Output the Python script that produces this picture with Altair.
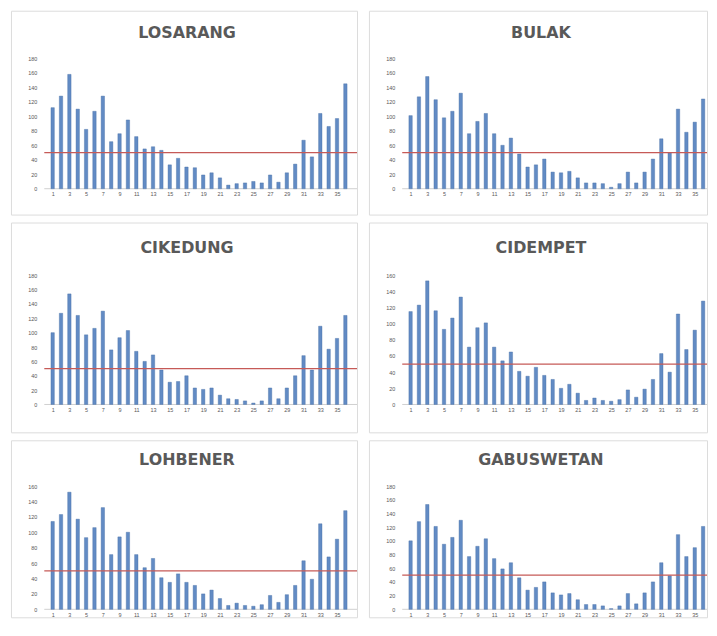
import altair as alt
import pandas as pd

days = list(range(1, 37))
x_labels = list(range(1, 36, 2))

losarang = [112, 128, 158, 110, 82, 107, 128, 65, 76, 95, 72, 55, 58, 53, 33, 42, 30, 29,
            19, 22, 15, 5, 7, 8, 10, 8, 19, 9, 22, 34, 67, 44, 104, 86, 97, 145]
bulak = [101, 127, 155, 123, 98, 107, 132, 76, 93, 104, 76, 60, 70, 48, 30, 33, 41, 23,
         22, 24, 15, 8, 8, 7, 2, 7, 23, 8, 23, 41, 69, 50, 110, 78, 92, 124]
cikedung = [100, 127, 154, 124, 97, 106, 130, 76, 93, 103, 74, 60, 69, 48, 31, 32, 40, 23,
            21, 23, 13, 8, 7, 5, 2, 5, 23, 8, 23, 40, 68, 48, 109, 77, 92, 124]
cidempet = [115, 123, 153, 116, 93, 107, 133, 71, 95, 101, 71, 54, 65, 41, 35, 46, 36, 31,
            20, 25, 14, 5, 8, 5, 4, 6, 18, 9, 19, 31, 63, 40, 112, 68, 92, 128]
lohbener = [114, 123, 152, 117, 93, 106, 132, 71, 94, 100, 71, 54, 66, 41, 35, 46, 35, 31,
            20, 25, 14, 5, 8, 5, 4, 6, 18, 9, 19, 31, 63, 39, 111, 68, 91, 128]
gabuswetan = [100, 128, 153, 121, 95, 105, 130, 77, 92, 103, 74, 59, 68, 46, 28, 32, 40, 24,
              21, 23, 14, 7, 7, 5, 1, 5, 23, 8, 24, 40, 68, 49, 109, 77, 90, 121]

panels = [
    ("LOSARANG", losarang, 180),
    ("BULAK", bulak, 180),
    ("CIKEDUNG", cikedung, 180),
    ("CIDEMPET", cidempet, 160),
    ("LOHBENER", lohbener, 160),
    ("GABUSWETAN", gabuswetan, 180),
]
threshold = 50

GRAY = "#595959"
FIRST_PX = 38   # pixel column of day 1 inside a panel
STEP_PX = 8.66  # pixels per day
# per row: panel height, title centre, top-tick row, zero row (pixels inside the panel)
ROWS = [
    dict(h=205, title=22, top=48, zero=179),
    dict(h=211, title=26, top=53, zero=183),
    dict(h=178, title=20, top=46, zero=170),
]
WIDTHS = [348, 340]
PAD = {"left": 2, "top": 0, "right": 0, "bottom": 0}


def panel(name, values, ymax, w, geo):
    h = geo["h"]
    df = pd.DataFrame({"day": days, "value": values})
    k = (geo["zero"] - geo["top"]) / ymax
    ydom = [-(h - geo["zero"]) / k, ymax + geo["top"] / k]
    xdom = [1 - FIRST_PX / STEP_PX, 1 + (w - FIRST_PX) / STEP_PX]
    xs = alt.Scale(domain=xdom, nice=False, zero=False)
    ys = alt.Scale(domain=ydom, nice=False, zero=False)
    bars = alt.Chart(df).mark_bar(size=3.4, color="#628bc4", stroke="#456da3", strokeWidth=0.4).encode(
        x=alt.X("day:Q", scale=xs, axis=alt.Axis(
            values=x_labels, tickCount=100, format="d", title=None, domain=False, ticks=False,
            grid=False, labelOverlap=False, labelFontSize=5.5, labelColor=GRAY, labelPadding=3,
            offset=-(h - geo["zero"]), labelFont="Liberation Sans")),
        y=alt.Y("value:Q", scale=ys, axis=alt.Axis(
            values=list(range(0, ymax + 1, 20)), tickCount=100, format="d", title=None,
            domain=False, ticks=False, grid=False, labelOverlap=False, labelFontSize=5.5,
            labelColor=GRAY, labelPadding=3, offset=-29, labelFont="Liberation Sans")),
    )
    baseline = alt.Chart(pd.DataFrame({"v": [0]})).mark_rule(color="#d0d0d0", strokeWidth=1).encode(
        y=alt.Y("v:Q", scale=ys), x=alt.datum(0, scale=xs), x2=alt.value(w))
    red = alt.Chart(pd.DataFrame({"v": [threshold]})).mark_rule(color="#c65a57", strokeWidth=1.2).encode(
        y=alt.Y("v:Q", scale=ys), x=alt.datum(0, scale=xs), x2=alt.value(w))
    title = alt.Chart(pd.DataFrame({"t": [name]})).mark_text(
        font="DejaVu Sans", fontSize=16, fontWeight="bold", color=GRAY,
        align="center", baseline="middle").encode(
        text="t:N", x=alt.value(w / 2 + 3), y=alt.value(geo["title"]))
    return alt.layer(baseline, bars, red, title).properties(width=w, height=h)


rows = []
for r in range(3):
    cells = []
    for c in range(2):
        name, vals, ymax = panels[r * 2 + c]
        cells.append(panel(name, vals, ymax, WIDTHS[c], ROWS[r]))
    rows.append(alt.hconcat(*cells, spacing=9))

chart = alt.vconcat(*rows, spacing=6).properties(
    padding=PAD,
    autosize=alt.AutoSizeParams(type="pad"),
    background="white",
).configure(padding=PAD).configure_view(stroke="#dcdcdc", strokeWidth=1, fill="white")

chart.save("out.html", embed_options={"renderer": "svg", "actions": False})
